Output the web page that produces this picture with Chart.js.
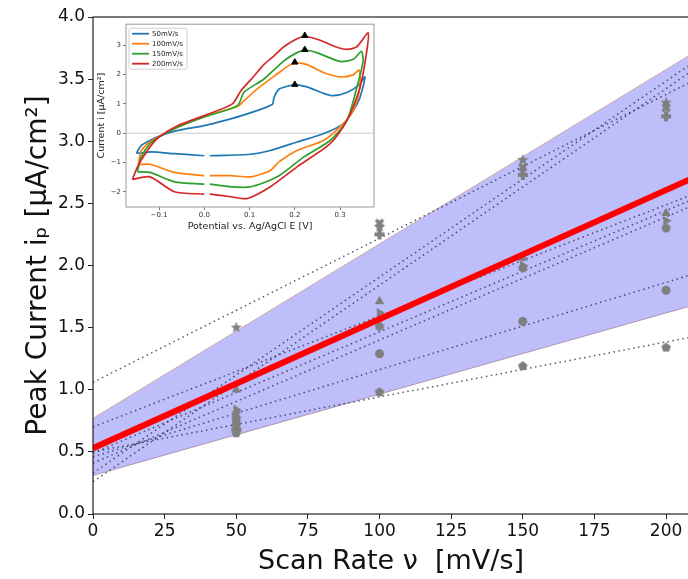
<!DOCTYPE html>
<html>
<head>
<meta charset="utf-8">
<script src="https://cdn.jsdelivr.net/npm/chart.js@4.4.0/dist/chart.umd.min.js"></script>
<style>
html, body { margin: 0; padding: 0; background: #fff; overflow: hidden; width: 688px; height: 579px; }
#wrap { position: relative; width: 700px; height: 579px; }
#main { position: absolute; left: 0; top: 0; }
#inset { position: absolute; left: 90px; top: 18px; }
</style>
</head>
<body>
<div id="wrap">
  <canvas id="main" width="700" height="579"></canvas>
  <canvas id="inset" width="295" height="215"></canvas>
</div>
<script>
// ---- main plot data ----
const scanRates = [50, 100, 150, 200];
const rateTicks = [0, 25, 50, 75, 100, 125, 150, 175, 200];
const currentTicks = [0, 0.5, 1.0, 1.5, 2.0, 2.5, 3.0, 3.5, 4.0];

const peakStar     = [1.50, 2.31, 2.85, 3.31];
const peakX        = [0.80, 2.34, 2.79, 3.27];
const peakPlus     = [0.68, 2.25, 2.73, 3.20];
const peakTriUp    = [1.00, 1.71, 2.06, 2.42];
const peakTriRight = [0.84, 1.62, 2.00, 2.36];
const peakOct      = [0.76, 1.51, 1.98, 2.30];
const peakCircle   = [0.72, 1.29, 1.55, 1.80];
const peakPentagon = [0.65, 0.98, 1.19, 1.34];

// fitted lines, value at each end of the x range
const fitX = [0, 208];
const fitStar     = [1.06, 3.47];
const fitXs       = [0.33, 3.61];
const fitPlus     = [0.26, 3.55];
const fitTriUp    = [0.70, 2.56];
const fitTriRight = [0.49, 2.52];
const fitOct      = [0.41, 2.47];
const fitCircle   = [0.46, 1.92];
const fitPentagon = [0.50, 1.42];
const fitMean     = [0.53, 2.69];
const bandUpper   = [0.77, 3.69];
const bandLower   = [0.31, 1.67];

// ---- inset data (cyclic voltammograms) ----
const insetETicks = [-0.1, 0, 0.1, 0.2, 0.3];
const insetITicks = [-2, -1, 0, 1, 2, 3];
const cvLabels = ['50mV/s', '100mV/s', '150mV/s', '200mV/s'];

const cvE50 = [-0.150,-0.139,-0.120,-0.100,-0.066,0.000,0.044,0.095,0.150,0.154,0.165,0.183,0.200,0.227,0.263,0.285,0.315,0.340,0.355, 0.344,0.329,0.307,0.263,0.205,0.146,0.103,0.044,0.012,null,0.000,-0.066,-0.117,-0.142,-0.150];
const cvI50 = [-0.68,-0.42,-0.25,-0.11,0.07,0.26,0.43,0.66,0.98,1.22,1.50,1.60,1.66,1.58,1.36,1.28,1.39,1.62,1.92, 1.22,0.77,0.32,-0.02,-0.30,-0.59,-0.72,-0.76,-0.77,null,-0.77,-0.70,-0.64,-0.68,-0.68];

const cvE100 = [-0.146,-0.139,-0.120,-0.100,-0.058,0.000,0.044,0.073,0.088,0.117,0.161,0.190,0.205,0.227,0.263,0.300,0.329,0.342, 0.344,0.329,0.307,0.263,0.205,0.165,0.146,0.103,0.059,0.012,null,0.000,-0.066,-0.120,-0.146];
const cvI100 = [-1.07,-0.59,-0.30,-0.11,0.21,0.57,0.77,0.91,1.11,1.51,2.02,2.34,2.40,2.34,2.07,1.92,1.99,2.15, 1.56,0.77,0.32,-0.25,-0.59,-0.98,-1.27,-1.49,-1.45,-1.45,null,-1.45,-1.34,-1.06,-1.07];

const cvE150 = [-0.148,-0.139,-0.120,-0.100,-0.058,0.000,0.073,0.088,0.132,0.176,0.205,0.223,0.248,0.300,0.329,0.347, 0.351,0.337,0.315,0.278,0.220,0.161,0.103,0.059,0.012,null,0.000,-0.066,-0.120,-0.148];
const cvI150 = [-1.32,-0.81,-0.36,-0.13,0.21,0.55,0.94,1.40,1.85,2.47,2.75,2.83,2.75,2.45,2.52,2.79, 2.47,1.56,0.43,-0.25,-0.81,-1.49,-1.83,-1.83,-1.74,null,-1.74,-1.66,-1.34,-1.32];

const cvE200 = [-0.159,-0.146,-0.120,-0.100,-0.058,0.000,0.062,0.081,0.110,0.132,0.154,0.176,0.205,0.223,0.256,0.290,0.315,0.337,0.362, 0.358,0.344,0.315,0.278,0.205,0.146,0.095,0.059,0.012,null,0.000,-0.066,-0.120,-0.159];
const cvI200 = [-1.58,-1.10,-0.47,-0.13,0.26,0.60,1.00,1.45,1.95,2.35,2.64,2.95,3.22,3.30,3.17,2.95,2.86,2.95,3.42, 2.69,1.56,0.43,-0.36,-1.15,-1.83,-2.23,-2.17,-2.08,null,-2.08,-2.00,-1.49,-1.58];

const peakMarkE = [0.200, 0.200, 0.222, 0.222];
const peakMarkI = [1.66, 2.42, 2.85, 3.33];

const cvColors = ['#1f77b4', '#ff7f0e', '#2ca02c', '#d62728'];
const markerColor = '#7f7f7f';

// ---- helpers ----
function pts(xs, ys) {
  return xs.map((x, i) => ({ x: x, y: ys[i] }));
}

// small filled marker shapes that Chart.js lacks
function markerCanvas(shape, r) {
  const s = Math.ceil(r * 2 + 2);
  const c = document.createElement('canvas');
  c.width = s; c.height = s;
  const g = c.getContext('2d');
  g.fillStyle = markerColor;
  g.translate(s / 2, s / 2);
  g.beginPath();
  if (shape === 'star') {
    for (let i = 0; i < 10; i++) {
      const a = -Math.PI / 2 + i * Math.PI / 5;
      const rr = i % 2 ? r * 0.42 : r;
      g.lineTo(rr * Math.cos(a), rr * Math.sin(a));
    }
  } else if (shape === 'pentagon') {
    for (let i = 0; i < 5; i++) {
      const a = -Math.PI / 2 + i * 2 * Math.PI / 5;
      g.lineTo(r * Math.cos(a), r * Math.sin(a));
    }
  } else if (shape === 'octagon') {
    for (let i = 0; i < 8; i++) {
      const a = Math.PI / 8 + i * Math.PI / 4;
      g.lineTo(r * Math.cos(a), r * Math.sin(a));
    }
  } else if (shape === 'plus') {
    const w = r * 0.4;
    g.rect(-r, -w, 2 * r, 2 * w);
    g.rect(-w, -r, 2 * w, 2 * r);
  } else if (shape === 'x') {
    g.rotate(Math.PI / 4);
    const w = r * 0.35;
    g.rect(-r, -w, 2 * r, 2 * w);
    g.rect(-w, -r, 2 * w, 2 * r);
  }
  g.closePath();
  g.fill();
  return c;
}

function fitLine(vals) {
  return {
    data: pts(fitX, vals),
    showLine: true,
    pointRadius: 0,
    borderColor: 'rgba(45,45,70,0.8)',
    borderWidth: 1.5,
    borderDash: [1.5, 3.5],
    order: 3
  };
}

function markers(vals, style, r, rot) {
  return {
    data: pts(scanRates, vals),
    showLine: false,
    pointStyle: style,
    pointRadius: r,
    pointRotation: rot || 0,
    pointBackgroundColor: markerColor,
    pointBorderColor: markerColor,
    pointBorderWidth: 0,
    order: 2
  };
}

const frame = {
  id: 'frame',
  afterDraw(chart, args, opts) {
    const a = chart.chartArea;
    const c = chart.ctx;
    c.save();
    c.strokeStyle = opts.color;
    c.lineWidth = opts.width;
    c.strokeRect(a.left, a.top, a.right - a.left, a.bottom - a.top);
    c.restore();
  }
};

// ---- main chart ----
const tickFont = { family: 'DejaVu Sans', size: 17 };

new Chart(document.getElementById('main'), {
  type: 'scatter',
  data: {
    datasets: [
      { data: pts(fitX, bandUpper), showLine: true, pointRadius: 0, borderColor: 'rgba(205,165,160,0.9)', borderWidth: 1,
        backgroundColor: 'rgba(20,20,240,0.28)', fill: '+1', order: 5 },
      { data: pts(fitX, bandLower), showLine: true, pointRadius: 0, borderColor: 'rgba(205,165,160,0.9)', borderWidth: 1,
        fill: false, order: 5 },
      fitLine(fitStar), fitLine(fitXs), fitLine(fitPlus), fitLine(fitTriUp),
      fitLine(fitTriRight), fitLine(fitOct), fitLine(fitCircle), fitLine(fitPentagon),
      markers(peakStar, markerCanvas('star', 6), 6),
      markers(peakX, markerCanvas('x', 5), 5),
      markers(peakPlus, markerCanvas('plus', 5), 5),
      markers(peakTriUp, 'triangle', 5.5),
      markers(peakTriRight, 'triangle', 5.5, 90),
      markers(peakOct, markerCanvas('octagon', 4.6), 4.6),
      markers(peakCircle, 'circle', 4.5),
      markers(peakPentagon, markerCanvas('pentagon', 5), 5),
      { data: pts(fitX, fitMean), showLine: true, pointRadius: 0, borderColor: '#ff0000', borderWidth: 6, order: 1 }
    ]
  },
  options: {
    responsive: false,
    animation: false,
    layout: { padding: { left: 0, top: 17, right: 11, bottom: 0 } },
    plugins: {
      legend: { display: false },
      tooltip: { enabled: false },
      frame: { color: '#222', width: 1.2 }
    },
    scales: {
      x: {
        type: 'linear', min: 0, max: 208,
        afterBuildTicks: s => { s.ticks = rateTicks.map(v => ({ value: v })); },
        afterFit: s => { s.height = 65; },
        ticks: { font: tickFont, color: '#111', padding: 2, maxRotation: 0, callback: v => v },
        grid: { drawOnChartArea: false, tickLength: 5, color: '#222' },
        border: { display: false },
        title: { display: true, text: 'Scan Rate ν  [mV/s]', font: { family: 'DejaVu Sans', size: 27 }, color: '#111', padding: { top: 0, bottom: 1 } }
      },
      y: {
        type: 'linear', min: 0, max: 4,
        afterBuildTicks: s => { s.ticks = currentTicks.map(v => ({ value: v })); },
        afterFit: s => { s.width = 93; },
        ticks: { font: tickFont, color: '#111', padding: 3, callback: v => v.toFixed(1) },
        grid: { drawOnChartArea: false, tickLength: 5, color: '#222' },
        border: { display: false },
        title: { display: true, text: 'Peak Current iₚ [μA/cm²]', font: { family: 'DejaVu Sans', size: 28 }, color: '#111', padding: { top: 22, bottom: 0 } }
      }
    }
  },
  plugins: [frame]
});

// ---- inset chart ----
const insetLegend = {
  id: 'insetLegend',
  afterDraw(chart) {
    const a = chart.chartArea;
    const c = chart.ctx;
    const x0 = a.left + 3, y0 = a.top + 4;
    c.save();
    c.fillStyle = 'rgba(255,255,255,0.8)';
    c.strokeStyle = '#d0d0d0';
    c.lineWidth = 1;
    c.beginPath();
    c.roundRect(x0, y0, 58, 41, 2);
    c.fill();
    c.stroke();
    c.font = '7px DejaVu Sans';
    c.textBaseline = 'middle';
    cvLabels.forEach((lab, i) => {
      const y = y0 + 5.5 + i * 10;
      c.strokeStyle = cvColors[i];
      c.lineWidth = 1.8;
      c.beginPath();
      c.moveTo(x0 + 3, y);
      c.lineTo(x0 + 20, y);
      c.stroke();
      c.fillStyle = '#222';
      c.fillText(lab, x0 + 23, y + 0.5);
    });
    c.restore();
  }
};

const cvSets = [[cvE50, cvI50], [cvE100, cvI100], [cvE150, cvI150], [cvE200, cvI200]];
const smallFont = { family: 'DejaVu Sans', size: 7 };
const labFont = { family: 'DejaVu Sans', size: 9.5 };
const signed = (v, d) => (v < 0 ? '\u2212' : '') + Math.abs(v).toFixed(d);

new Chart(document.getElementById('inset'), {
  type: 'scatter',
  data: {
    datasets: [
      { data: pts([-0.3, 0.5], [0, 0]), showLine: true, pointRadius: 0, borderColor: '#cccccc', borderWidth: 1, order: 6 },
      ...cvSets.map((s, i) => ({
        data: pts(s[0], s[1]), showLine: true, spanGaps: false, pointRadius: 0,
        borderColor: cvColors[i], borderWidth: 1.7, tension: 0.25, order: 5 - i
      })),
      { data: pts(peakMarkE, peakMarkI), showLine: false, pointStyle: 'triangle', pointRadius: 3.6,
        pointBackgroundColor: '#000', pointBorderColor: '#000', order: 0 }
    ]
  },
  options: {
    responsive: false,
    animation: false,
    layout: { padding: { left: 0, top: 5, right: 11, bottom: 0 } },
    plugins: {
      legend: { display: false },
      tooltip: { enabled: false },
      frame: { color: '#999', width: 1 }
    },
    scales: {
      x: {
        type: 'linear', min: -0.173, max: 0.375,
        afterBuildTicks: s => { s.ticks = insetETicks.map(v => ({ value: v })); },
        afterFit: s => { s.height = 26; },
        ticks: { font: smallFont, color: '#333', padding: 1, maxRotation: 0, callback: v => signed(v, 1) },
        grid: { drawOnChartArea: false, tickLength: 3, color: '#777' },
        border: { display: false },
        title: { display: true, text: 'Potential vs. Ag/AgCl E [V]', font: labFont, color: '#222', padding: { top: 0, bottom: 1 } }
      },
      y: {
        type: 'linear', min: -2.52, max: 3.72,
        afterBuildTicks: s => { s.ticks = insetITicks.map(v => ({ value: v })); },
        afterFit: s => { s.width = 36; },
        ticks: { font: smallFont, color: '#333', padding: 2, callback: v => signed(v, 0) },
        grid: { drawOnChartArea: false, tickLength: 3, color: '#777' },
        border: { display: false },
        title: { display: true, text: 'Current i [μA/cm²]', font: labFont, color: '#222', padding: { top: 6, bottom: 0 } }
      }
    }
  },
  plugins: [frame, insetLegend]
});
</script>
</body>
</html>
